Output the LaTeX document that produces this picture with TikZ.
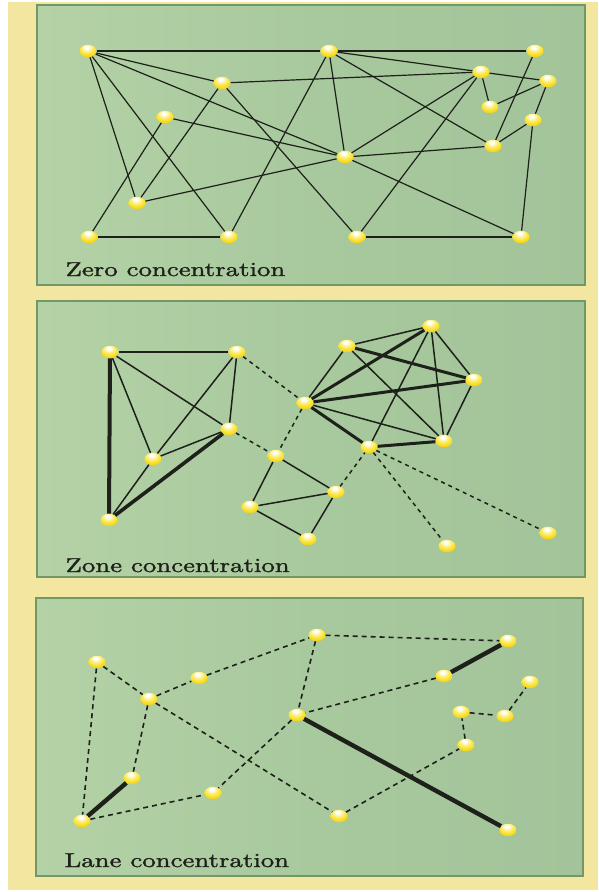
\documentclass[tikz,border=0pt]{standalone}
\usetikzlibrary{shapes.geometric}
\definecolor{cream}{RGB}{243,230,160}
\definecolor{panelR}{RGB}{163,196,154}
\definecolor{panelL}{RGB}{180,210,166}
\definecolor{rim}{RGB}{112,152,104}
\definecolor{ink}{RGB}{30,32,26}
\definecolor{gold}{RGB}{226,178,10}
\definecolor{ylw}{RGB}{250,226,40}
\pgfdeclareradialshading{nodeball}{\pgfpoint{-4bp}{16bp}}{%
  color(0bp)=(white); color(5bp)=(white); color(14bp)=(ylw!55!white);
  color(24bp)=(ylw); color(46bp)=(gold); color(70bp)=(gold)}
\newcommand{\heavytext}[1]{\special{pdf:literal direct 2 Tr 0.12 w}#1\special{pdf:literal direct 0 Tr}}
\tikzset{
  dot/.style={ellipse, minimum width=17pt, minimum height=12.5pt, inner sep=0pt,
    draw=none, shading=nodeball},
  ln/.style={line width=1.2pt, draw=ink},
  thk/.style={line width=3.6pt, draw=ink},
  dsh/.style={line width=1.6pt, draw=ink, dash pattern=on 5pt off 4pt},
  panel/.style={draw=rim, line width=1.6pt, left color=panelL, right color=panelR, middle color=panelR!70!panelL},
  lab/.style={anchor=base west, text=ink, inner sep=0pt, xscale=2.68, yscale=2.0,
    font=\normalsize}
}
\begin{document}
\begin{tikzpicture}[x=1pt,y=-1pt]
\useasboundingbox (0,0) rectangle (598,892);
\fill[white] (0,0) rectangle (598,892);
\fill[cream] (8,2) rectangle (598,890);
% panels
\path[panel] (37,5) rectangle (585,285);
\path[panel] (37,301) rectangle (585,577);
\path[panel] (36,598) rectangle (583,876);

% ---------- Panel 1: Zero concentration
\node[dot] (zA) at (88,51) {};
\node[dot] (zB) at (329,51) {};
\node[dot] (zC) at (535,51) {};
\node[dot] (zD) at (481,72) {};
\node[dot] (zE) at (548,81) {};
\node[dot] (zF) at (222,83) {};
\node[dot] (zG) at (490,107) {};
\node[dot] (zH) at (165,117) {};
\node[dot] (zI) at (533,120) {};
\node[dot] (zJ) at (493,146) {};
\node[dot] (zK) at (345,157) {};
\node[dot] (zL) at (137,203) {};
\node[dot] (zM) at (89,237) {};
\node[dot] (zN) at (229,237) {};
\node[dot] (zO) at (357,237) {};
\node[dot] (zP) at (521,237) {};
\foreach \a/\b in {zA/zB, zB/zC, zA/zF, zA/zL, zA/zN, zA/zK, zF/zD, zF/zL, zF/zO,
  zH/zM, zH/zK, zL/zK, zM/zN, zB/zN, zB/zK, zB/zD, zB/zJ, zD/zK, zD/zO, zD/zE,
  zD/zG, zG/zE, zC/zJ, zE/zI, zI/zJ, zK/zJ, zK/zP, zI/zP, zO/zP}
  \draw[ln] (\a) -- (\b);
\node[lab] (t1) at (65,276) {\heavytext{Zero concentration}};

% ---------- Panel 2: Zone concentration
\node[dot] (ya) at (110,352) {};
\node[dot] (yb) at (237,352) {};
\node[dot] (yc) at (229,429) {};
\node[dot] (yd) at (153,459) {};
\node[dot] (ye) at (109,520) {};
\node[dot] (yf) at (431,326) {};
\node[dot] (yg) at (347,346) {};
\node[dot] (yh) at (474,380) {};
\node[dot] (yi) at (305,403) {};
\node[dot] (yj) at (444,441) {};
\node[dot] (yk) at (369,447) {};
\node[dot] (yl) at (276,456) {};
\node[dot] (ym) at (336,492) {};
\node[dot] (yn) at (250,507) {};
\node[dot] (yo) at (308,539) {};
\node[dot] (yp) at (447,546) {};
\node[dot] (yq) at (548,533) {};
\foreach \a/\b in {ya/yb, ya/yd, ya/yc, yb/yd, yb/yc, yd/yc, ye/yd,
  yl/ym, yl/yn, yn/ym, yn/yo, yo/ym,
  yg/yf, yg/yi, yg/yj, yf/yh, yf/yj, yf/yk, yh/yj, yi/yj}
  \draw[ln, line width=1.5pt] (\a) -- (\b);
\draw[thk, line width=4pt] (ya) -- (ye);
\draw[thk] (ye) -- (yc);
\foreach \a/\b in {yg/yh, yf/yi, yh/yi, yi/yk, yk/yj}
  \draw[thk, line width=3pt] (\a) -- (\b);
\foreach \a/\b in {yb/yi, yc/yl, yi/yl, ym/yk, yk/yp, yk/yq}
  \draw[dsh, line width=1.5pt, dash pattern=on 4pt off 4pt] (\a) -- (\b);
\node[lab] (t2) at (65,572) {\heavytext{Zone concentration}};

% ---------- Panel 3: Lane concentration
\node[dot] (xA) at (97,662) {};
\node[dot] (xB) at (317,635) {};
\node[dot] (xC) at (508,641) {};
\node[dot] (xD) at (199,678) {};
\node[dot] (xE) at (444,676) {};
\node[dot] (xF) at (530,682) {};
\node[dot] (xG) at (149,699) {};
\node[dot] (xH) at (297,715) {};
\node[dot] (xI) at (461,712) {};
\node[dot] (xJ) at (505,716) {};
\node[dot] (xK) at (466,745) {};
\node[dot] (xL) at (132,778) {};
\node[dot] (xM) at (213,793) {};
\node[dot] (xN) at (339,816) {};
\node[dot] (xO) at (82,821) {};
\node[dot] (xP) at (508,830) {};
\foreach \a/\b in {xA/xO, xA/xG, xG/xD, xD/xB, xB/xC, xE/xH, xB/xH, xH/xM,
  xG/xN, xG/xL, xO/xM, xN/xK, xK/xI, xI/xJ, xJ/xF}
  \draw[dsh] (\a) -- (\b);
\foreach \a/\b in {xC/xE, xH/xP, xL/xO}
  \draw[thk, line width=4.4pt] (\a) -- (\b);
\node[lab] (t3) at (64,867) {\heavytext{Lane concentration}};
\end{tikzpicture}
\end{document}
